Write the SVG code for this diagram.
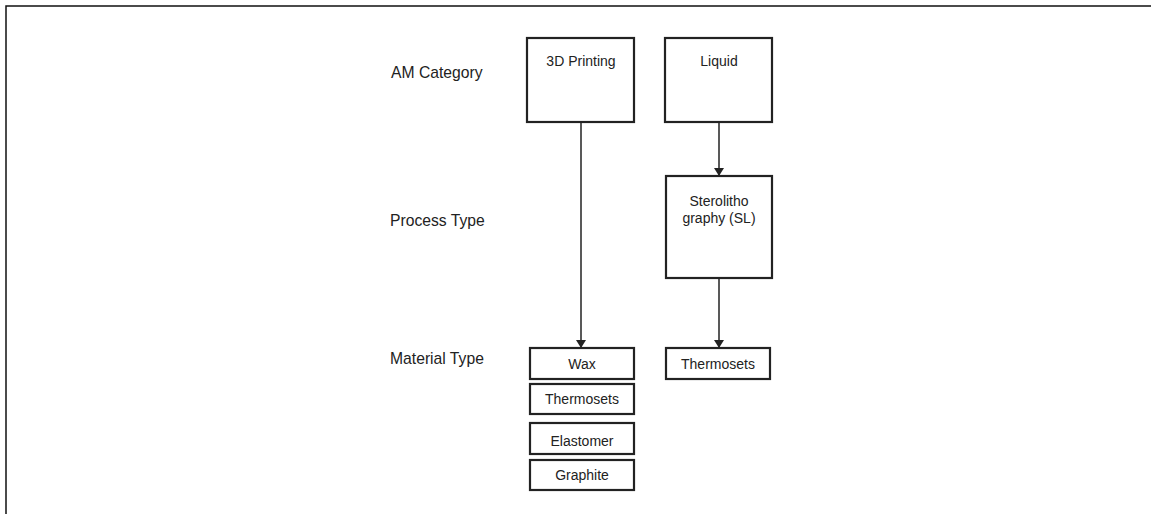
<svg xmlns="http://www.w3.org/2000/svg" width="1151" height="514" viewBox="0 0 1151 514">
<style>
.box{fill:#fff;stroke:#222;stroke-width:2.2}
.lbl{font-family:"Liberation Sans",Arial,sans-serif;font-size:15.7px;fill:#222}
.t{font-family:"Liberation Sans",Arial,sans-serif;font-size:14px;fill:#222;text-anchor:middle}
.conn{stroke:#222;stroke-width:1.5;fill:none;marker-end:url(#ah)}
</style>
<defs>
<marker id="ah" markerWidth="8" markerHeight="10" refX="7" refY="5" orient="auto" markerUnits="userSpaceOnUse">
<path d="M0,0 L8,5 L0,10 Z" fill="#222"/>
</marker>
</defs>
<rect width="1151" height="514" fill="#fff"/>
<path d="M6,514 V6 H1151" fill="none" stroke="#111" stroke-width="1.5"/>
<g id="labels">
<text class="lbl" x="391" y="78">AM Category</text>
<text class="lbl" x="390" y="226">Process Type</text>
<text class="lbl" x="390" y="364">Material Type</text>
</g>
<g id="connectors">
<line class="conn" x1="581" y1="123" x2="581" y2="347"/>
<line class="conn" x1="719" y1="123" x2="719" y2="175"/>
<line class="conn" x1="719" y1="279" x2="719" y2="347"/>
</g>
<g id="n-3dprinting"><rect class="box" x="527" y="38" width="107" height="84"/><text class="t" x="581" y="66">3D Printing</text></g>
<g id="n-liquid"><rect class="box" x="665" y="38" width="107" height="84"/><text class="t" x="719" y="66">Liquid</text></g>
<g id="n-sl"><rect class="box" x="666" y="176" width="106" height="102"/><text class="t" x="719" y="206">Sterolitho</text><text class="t" x="719" y="223">graphy (SL)</text></g>
<g id="n-wax"><rect class="box" x="530" y="348" width="104" height="31"/><text class="t" x="582" y="369">Wax</text></g>
<g id="n-thermosets1"><rect class="box" x="530" y="384" width="104" height="30"/><text class="t" x="582" y="404">Thermosets</text></g>
<g id="n-elastomer"><rect class="box" x="530" y="423" width="104" height="31"/><text class="t" x="582" y="446">Elastomer</text></g>
<g id="n-graphite"><rect class="box" x="530" y="460" width="104" height="30"/><text class="t" x="582" y="480">Graphite</text></g>
<g id="n-thermosets2"><rect class="box" x="666" y="348" width="104" height="31"/><text class="t" x="718" y="369">Thermosets</text></g>
</svg>
